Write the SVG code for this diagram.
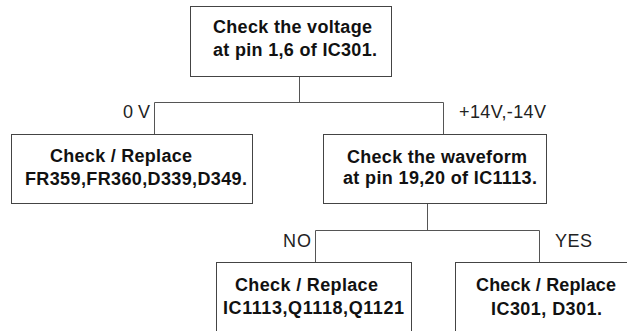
<svg xmlns="http://www.w3.org/2000/svg" width="627" height="331" viewBox="0 0 627 331">
<style>
.box{fill:#fff;stroke:#444;stroke-width:1}
.b{font-family:"Liberation Sans",Arial,sans-serif;font-weight:bold;font-size:18px;fill:#111}
.r{font-family:"Liberation Sans",Arial,sans-serif;font-size:18px;fill:#222}
.c{fill:none;stroke:#555;stroke-width:1}
</style>
<rect width="627" height="331" fill="#fff"/>
<g id="connectors">
<path class="c" d="M299.5 76V102.5M154.5 102.5H443.5M154.5 102.5V134M443.5 102.5V134M427.5 204V230.5M315.5 230.5H539.5M315.5 230.5V262M539.5 230.5V263"/>
<text class="r" x="150" y="118" text-anchor="end">0 V</text>
<text class="r" x="459" y="118" textLength="87">+14V,-14V</text>
<text class="r" x="283" y="247" textLength="28">NO</text>
<text class="r" x="555" y="247" textLength="37">YES</text>
</g>
<g id="n1">
<rect class="box" x="190.5" y="6.5" width="201" height="70"/>
<text class="b" x="213" y="33" textLength="159">Check the voltage</text>
<text class="b" x="213" y="56" textLength="164">at pin 1,6 of IC301.</text>
</g>
<g id="n2">
<rect class="box" x="11.5" y="134.5" width="241" height="69"/>
<text class="b" x="50" y="162" textLength="142">Check / Replace</text>
<text class="b" x="25" y="185" textLength="222">FR359,FR360,D339,D349.</text>
</g>
<g id="n3">
<rect class="box" x="323.5" y="134.5" width="223" height="69"/>
<text class="b" x="347" y="163" textLength="180">Check the waveform</text>
<text class="b" x="343" y="184" textLength="194">at pin 19,20 of IC1113.</text>
</g>
<g id="n4">
<rect class="box" x="216.5" y="262.5" width="195" height="80"/>
<text class="b" x="235" y="291" textLength="143">Check / Replace</text>
<text class="b" x="223" y="314" textLength="181">IC1113,Q1118,Q1121</text>
</g>
<g id="n5">
<rect class="box" x="455.5" y="262.5" width="190" height="80"/>
<text class="b" x="476" y="291" textLength="140">Check / Replace</text>
<text class="b" x="491" y="315" textLength="111">IC301, D301.</text>
</g>
</svg>
